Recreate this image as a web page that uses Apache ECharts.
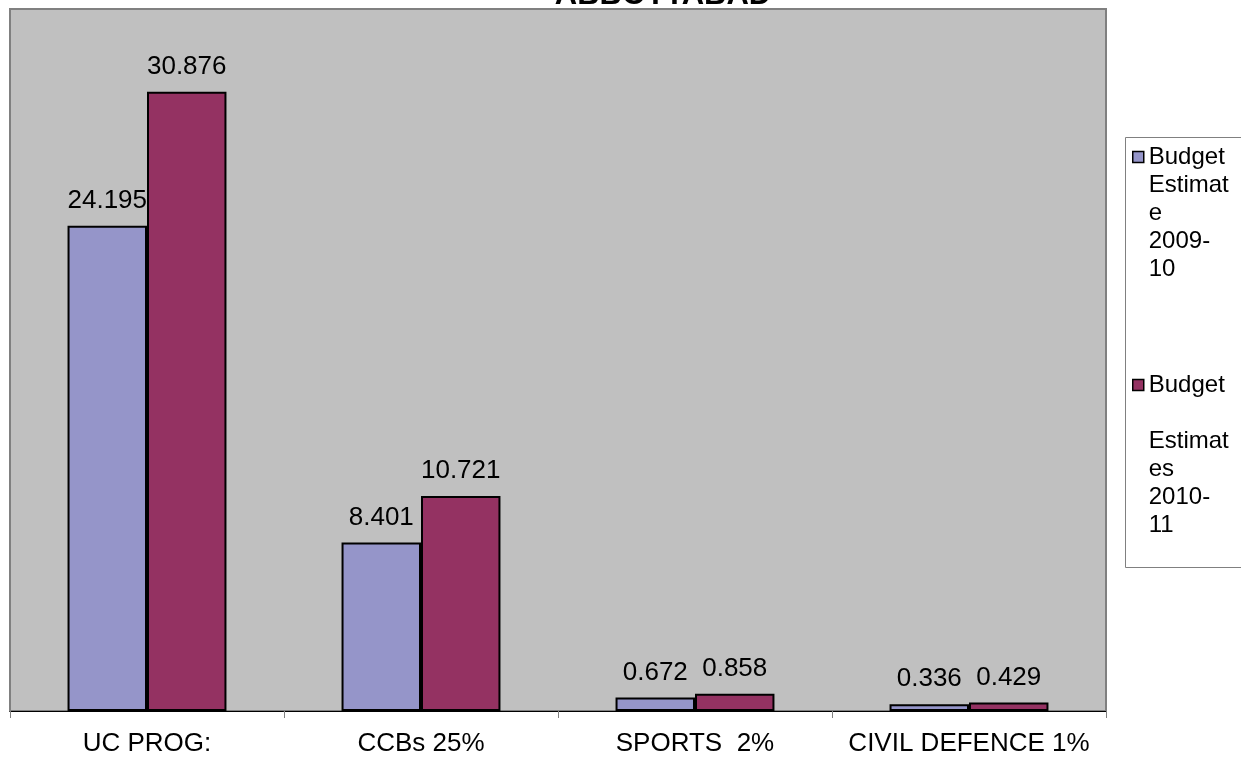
<!DOCTYPE html>
<html>
<head>
<meta charset="utf-8">
<title>ABBOTTABAD</title>
<script src="https://cdn.jsdelivr.net/npm/echarts@6/dist/echarts.min.js"></script>
<style>
  html, body { margin: 0; padding: 0; background: #ffffff; }
  #chart { width: 1241px; height: 767px; }
</style>
</head>
<body>
<div id="chart"></div>
<script>
// Categories and values (Rs. million)
const categories = ['UC PROG:', 'CCBs 25%', 'SPORTS  2%', 'CIVIL DEFENCE 1%'];
const seriesNames = ['Budget Estimate 2009-10', 'Budget Estimates 2010-11'];
const estimate2009 = [24.195, 8.401, 0.672, 0.336];
const estimate2010 = [30.876, 10.721, 0.858, 0.429];

// Legend entries wrapped into a narrow column
const legendLines = {
  'Budget Estimate 2009-10': ['Budget', 'Estimat', 'e', '2009-', '10'],
  'Budget Estimates 2010-11': ['Budget', '', 'Estimat', 'es', '2010-', '11']
};

const FONT = 'Liberation Sans, Arial, sans-serif';
const LEGEND_LH = 28;

// Legend text is centred on its icon, so pad it with blank lines on top
// to keep the first line level with the icon.
function legendText(name) {
  const lines = legendLines[name];
  const pad = new Array(lines.length - 1).fill(' ');
  return pad.concat(lines).join('\n');
}

// One legend per series, each anchored so that its icon sits at iconY
function legendFor(name, iconY) {
  const n = legendLines[name].length;
  return {
    orient: 'vertical',
    left: 1125,
    top: iconY - (n - 0.5) * LEGEND_LH,
    padding: [0, 0, 0, 7],
    itemWidth: 11,
    itemHeight: 11,
    icon: 'rect',
    selectedMode: false,
    textStyle: { fontFamily: FONT, fontSize: 24, color: '#000000', lineHeight: LEGEND_LH },
    data: [{ name: name, itemStyle: { borderColor: '#000000', borderWidth: 1.5 } }],
    formatter: legendText
  };
}

const chart = echarts.init(document.getElementById('chart'), null, { renderer: 'canvas' });

function barSeries(name, data, color) {
  return {
    name: name,
    type: 'bar',
    data: data,
    barGap: '0%',
    barCategoryGap: '42%',
    itemStyle: { color: color, borderColor: '#000000', borderWidth: 2 },
    label: {
      show: true,
      position: 'top',
      distance: 12,
      color: '#000000',
      fontFamily: FONT,
      fontSize: 26
    },
    emphasis: { disabled: true }
  };
}

chart.setOption({
  animation: false,
  title: {
    text: 'ABBOTTABAD',
    left: 658,
    top: -25,
    textAlign: 'center',
    textStyle: { fontFamily: FONT, fontSize: 31, fontWeight: 'bold', color: '#000000' }
  },
  graphic: [{
    // legend frame
    type: 'rect',
    shape: { x: 1125.5, y: 137.5, width: 130, height: 430 },
    style: { fill: '#ffffff', stroke: '#808080', lineWidth: 1 },
    z: -1,
    silent: true
  }],
  legend: [
    legendFor(seriesNames[0], 157),
    legendFor(seriesNames[1], 385)
  ],
  grid: {
    left: 10,
    right: 135,
    top: 9,
    bottom: 56,
    show: true,
    backgroundColor: '#C0C0C0',
    borderColor: '#808080',
    borderWidth: 2
  },
  xAxis: {
    type: 'category',
    data: categories,
    axisLine: { show: true, lineStyle: { color: '#000000', width: 1 } },
    axisTick: { show: true, length: 7, lineStyle: { color: '#808080', width: 1 } },
    axisLabel: { color: '#000000', fontFamily: FONT, fontSize: 26, margin: 20, interval: 0 }
  },
  yAxis: {
    type: 'value',
    min: 0,
    max: 35,
    show: false
  },
  series: [
    barSeries(seriesNames[0], estimate2009, '#9595C9'),
    barSeries(seriesNames[1], estimate2010, '#943262')
  ]
});
</script>
</body>
</html>
